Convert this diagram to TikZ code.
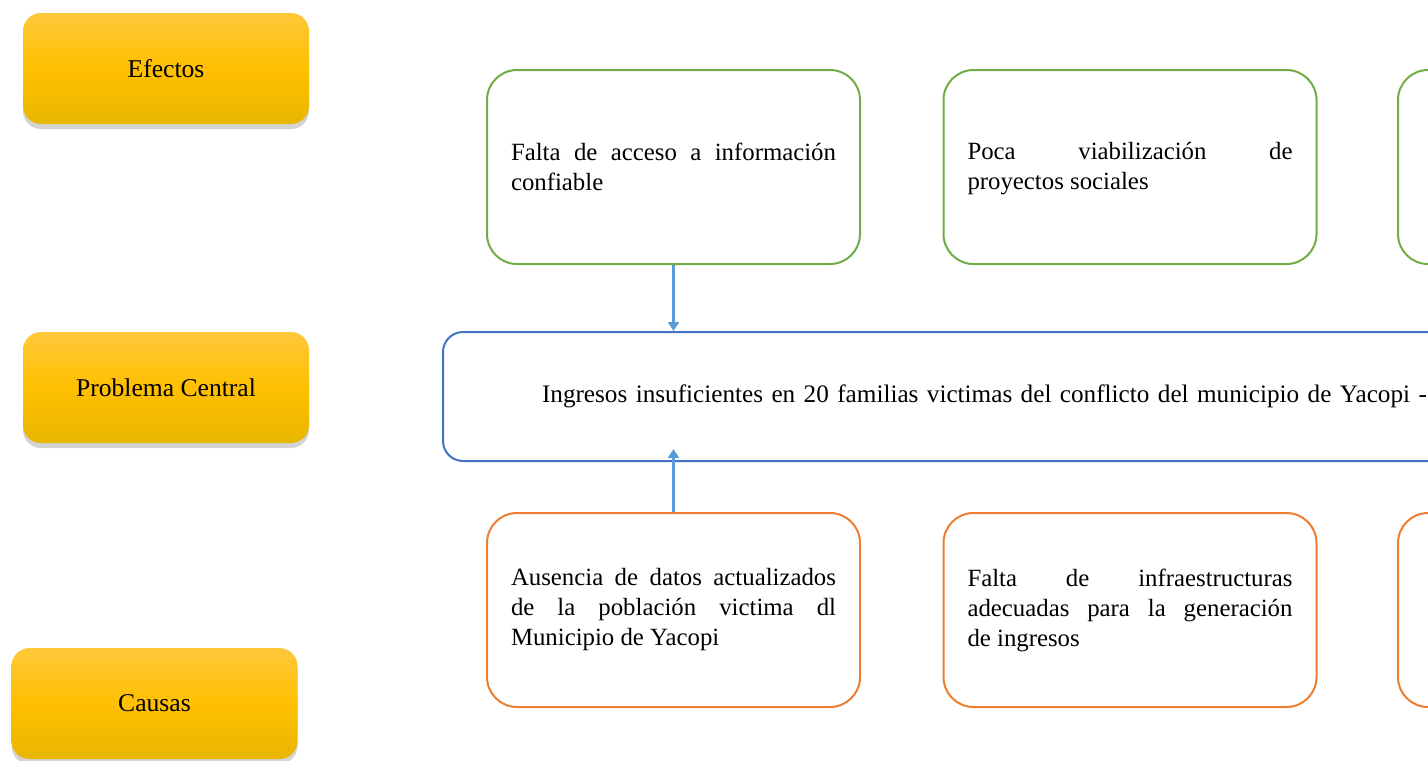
\documentclass[tikz,border=0pt]{standalone}
\usepackage{fontspec}
\setmainfont{Liberation Serif}
\usetikzlibrary{arrows.meta,shadows}

\definecolor{efgreen}{RGB}{112,173,71}
\definecolor{caorange}{RGB}{237,125,49}
\definecolor{cenblue}{RGB}{68,114,196}
\definecolor{arrblue}{RGB}{91,155,213}

\tikzset{
  labelbox/.style={rounded corners=9pt, minimum width=143pt, minimum height=55.5pt,
    top color={rgb,255:red,255;green,200;blue,58}, bottom color={rgb,255:red,232;green,182;blue,0},
    middle color={rgb,255:red,255;green,192;blue,0},
    drop shadow={opacity=0.35, shadow xshift=0pt, shadow yshift=-2.5pt}, font=\fontsize{12.8}{14}\selectfont},
  effbox/.style={draw=efgreen, line width=1pt, rounded corners=15pt, minimum width=186.5pt, minimum height=97pt,
    text width=162.5pt, align=justify, font=\fontsize{12.4}{15}\selectfont},
  caubox/.style={effbox, draw=caorange},
  arr/.style={draw=arrblue, line width=1.2pt, -{Triangle[width=5.5pt,length=4.5pt]}}
}

\begin{document}
\begin{tikzpicture}[x=0.5pt,y=0.5pt,yscale=-1]
\useasboundingbox (0,0) rectangle (1428,760);
\clip (0,0) rectangle (1428,760);

%Shape: Labels left
\node [labelbox] (efectos) at (166,68.5) {Efectos};
\node [labelbox] (problema) at (166,387.5) {Problema Central};
\node [labelbox] (causas) at (154.5,703.5) {Causas};

%Shape: Effects
\node [effbox] (ef1) at (673.5,167) {Falta de acceso a información\linebreak confiable};
\node [effbox] (ef2) at (1130,167) {\strut Poca viabilización de\linebreak proyectos sociales};
\node [effbox] (ef3) at (1584.5,167) {};

%Shape: Central problem
\node [draw=cenblue, line width=1pt, rounded corners=10pt, anchor=west, minimum width=750pt, minimum height=64.5pt,
  inner xsep=49.5pt, text width=651pt, align=left, font=\fontsize{12.6}{15}\selectfont] (central) at (442,396.5)
  {Ingresos insuficientes en 20 familias victimas del conflicto del municipio de Yacopi -};

%Shape: Causes
\node [caubox] (ca1) at (673.5,610) {Ausencia de datos actualizados\linebreak de la población victima dl\linebreak Municipio de Yacopi};
\node [caubox] (ca2) at (1130,610) {Falta de infraestructuras\linebreak adecuadas para la generación\linebreak de ingresos};
\node [caubox] (ca3) at (1584.5,610) {};

%Straight Lines
\draw [arr] (ef1.south) -- (ef1.south |- central.north);
\draw [arr, shorten >=-6.5pt] (ca1.north) -- (ca1.north |- central.south);

\end{tikzpicture}
\end{document}
